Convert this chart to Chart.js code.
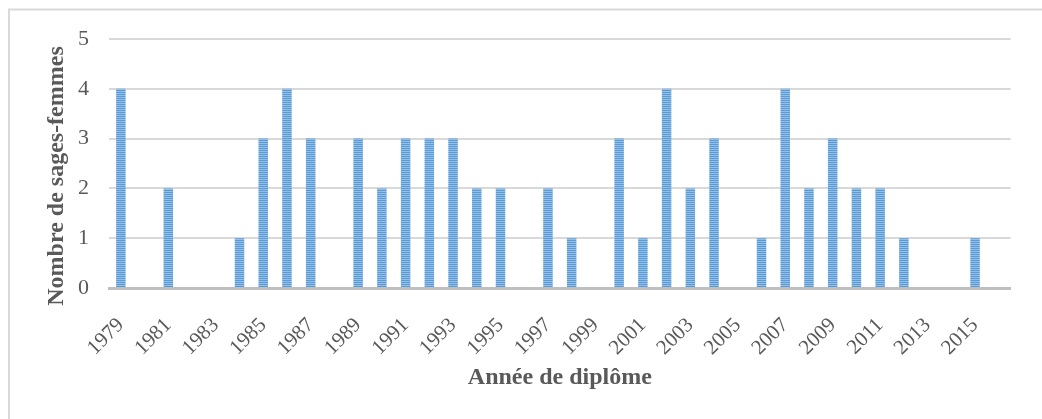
<!DOCTYPE html>
<html>
<head>
<meta charset="utf-8">
<script src="https://cdn.jsdelivr.net/npm/chart.js@4"></script>
<style>
html,body{margin:0;padding:0;background:#fff;}
#wrap{width:1042px;height:419px;position:relative;}
</style>
</head>
<body>
<div id="wrap"><canvas id="graphique"></canvas></div>
<script>

// données
const annees = [
"1979","1980","1981","1982","1983","1984","1985","1986","1987","1988",
"1989","1990","1991","1992","1993","1994","1995","1996","1997","1998",
"1999","2000","2001","2002","2003","2004","2005","2006","2007","2008",
"2009","2010","2011","2012","2013","2014","2015","2016"
];

const sagesFemmes = [
4,0,2,0,0,1,3,4,3,0,
3,2,3,3,3,2,2,0,2,1,
0,3,1,4,2,3,0,1,4,2,
3,2,2,1,0,0,1,0
];

const ticksY = [0,1,2,3,4,5];

const titreY = "Nombre de sages-femmes";
const titreX = "Année de diplôme";


// motif rayé des barres
function motifBarres(){
  const c = document.createElement("canvas");
  c.width = 4; c.height = 2;
  const g = c.getContext("2d");
  g.fillStyle = "#5b9bd5";
  g.fillRect(0,0,4,1);
  g.fillStyle = "#93bfe8";
  g.fillRect(0,1,4,1);
  return g.createPattern(c,"repeat");
}

const gris = "#595959";

// cadre + titres des axes
const habillage = {
  id:"habillage",
  beforeDraw(chart){
    const ctx = chart.ctx;
    ctx.save();
    ctx.fillStyle = "#fff";
    ctx.fillRect(0,0,chart.width,chart.height);
    ctx.strokeStyle = "#d9d9d9";
    ctx.lineWidth = 2;
    ctx.strokeRect(9,9.5,1200,600);
    ctx.restore();
  },
  afterDraw(chart){
    const ctx = chart.ctx;
    ctx.save();
    ctx.fillStyle = gris;
    ctx.textAlign = "center";
    ctx.textBaseline = "middle";
    ctx.font = "bold 24px 'Liberation Serif'";
    ctx.translate(57,176);
    ctx.rotate(-Math.PI/2);
    ctx.fillText(titreY,0,0);
    ctx.restore();

    ctx.save();
    ctx.fillStyle = gris;
    ctx.textAlign = "center";
    ctx.textBaseline = "middle";
    ctx.font = "bold 24px 'Liberation Serif'";
    ctx.fillText(titreX,(chart.chartArea.left+chart.chartArea.right)/2,378);
    ctx.restore();
  }
};

new Chart(
document.getElementById("graphique"),
{
  type:"bar",
  data:{
    labels:annees,
    datasets:[{
      label:titreY,
      data:sagesFemmes,
      backgroundColor:motifBarres(),
      borderWidth:0,
      categoryPercentage:1,
      barPercentage:0.4
    }]
  },
  options:{
    responsive:true,
    maintainAspectRatio:false,
    animation:false,
    layout:{padding:{left:0,right:30,top:39,bottom:0}},
    plugins:{
      legend:{display:false},
      tooltip:{enabled:false}
    },
    scales:{
      x:{
        grid:{display:false,drawTicks:false},
        border:{display:true,color:"#bfbfbf",width:3},
        ticks:{
          autoSkip:false,
          maxRotation:45,
          minRotation:45,
          padding:25,
          color:gris,
          font:{family:"'Liberation Serif'",size:21},
          callback:function(v,i){ return i%2===0 ? annees[i] : ""; }
        },
        afterFit(scale){ scale.height = 131; }
      },
      y:{
        min:ticksY[0],
        max:ticksY[ticksY.length-1],
        afterBuildTicks(scale){ scale.ticks = ticksY.map(v=>({value:v})); },
        grid:{color:"#d9d9d9",lineWidth:2,drawTicks:false},
        border:{display:false},
        ticks:{
          padding:20,
          color:gris,
          font:{family:"'Liberation Serif'",size:22}
        },
        afterFit(scale){ scale.width = 109; }
      }
    }
  },
  plugins:[habillage]
}
);

</script>
</body>
</html>
